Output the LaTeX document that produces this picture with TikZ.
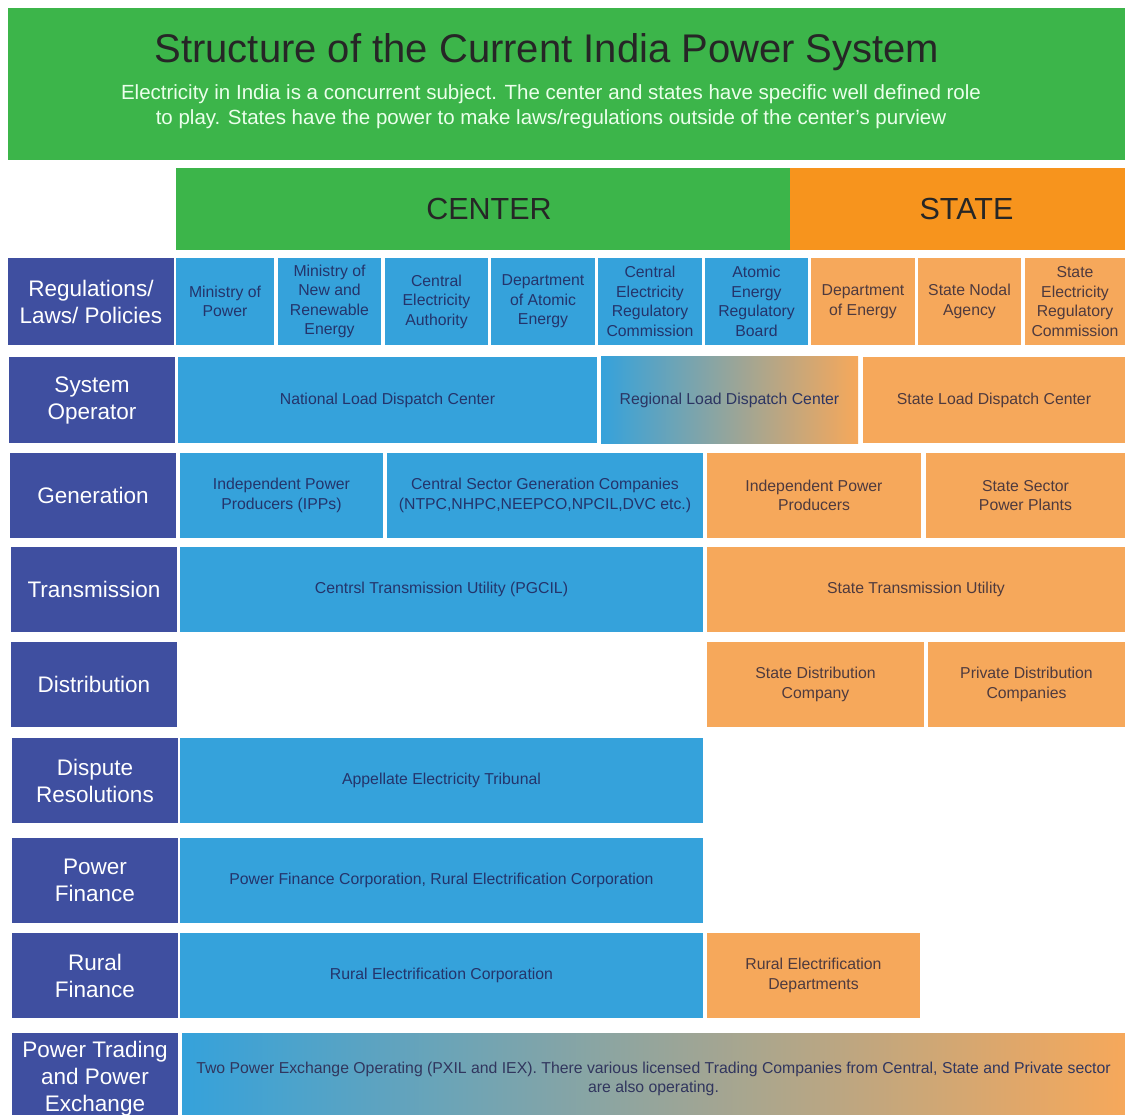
\documentclass[tikz,border=0pt]{standalone}
\usepackage{fontspec}
\setmainfont{Liberation Sans}
\usetikzlibrary{positioning}

\definecolor{bannergreen}{HTML}{3CB54A}
\definecolor{stateorange}{HTML}{F7941D}
\definecolor{rowblue}{HTML}{3F4FA0}
\definecolor{cellblue}{HTML}{35A2DB}
\definecolor{cellorange}{HTML}{F6A85B}
\definecolor{bluetext}{HTML}{24346B}
\definecolor{orangetext}{HTML}{4E3A3E}

% one box of the table, given by its left/right/top/bottom edges
\newcommand{\cellbox}[7][]{%
  \node[cell, #1, minimum width={#4-#3}, minimum height={#6-#5}]
    (#2) at ({(#3+#4)/2},{(#5+#6)/2}) {#7};}

\begin{document}
\begin{tikzpicture}[x=1pt, y=-1pt,
    cell/.style={inner sep=0pt, align=center, font=\fontsize{15.8}{19.5}\selectfont},
    center cell/.style={fill=cellblue, text=bluetext},
    state cell/.style={fill=cellorange, text=orangetext},
    row label/.style={fill=rowblue, text=white, font=\fontsize{22.5}{27}\selectfont},
    head/.style={font=\fontsize{30.5}{36}\selectfont, text=black!85}]
  \useasboundingbox[fill=white] (0,0) rectangle (1125,1115);

  % banner
  \fill[bannergreen] (8,8) rectangle (1125,160);
  \node[font=\fontsize{40}{44}\selectfont, text=black!85] (title) at (547,52)
    {Structure of the Current India Power System};
  \node[font=\fontsize{20.5}{25}\selectfont, text=white!92!green, align=center] (subtitle) at (551,107)
    {Electricity in India is a concurrent subject. The center and states have specific well defined role\\
     to play. States have the power to make laws/regulations outside of the center's purview};

  % column heads
  \cellbox[fill=bannergreen, head]{center}{176}{790}{168}{250}{\hspace*{12pt}CENTER}
  \cellbox[fill=stateorange, head]{state}{790}{1125}{168}{250}{\hspace*{18pt}STATE}

  % row labels
  \cellbox[row label]{regs}{8}{174}{258}{345}{Regulations/\\Laws/ Policies}
  \cellbox[row label]{sysop}{9}{175}{357}{443}{System\\Operator}
  \cellbox[row label]{gen}{10}{176}{453}{538}{Generation}
  \cellbox[row label]{trans}{11}{177}{547}{632}{Transmission}
  \cellbox[row label]{dist}{11}{177}{642}{727}{Distribution}
  \cellbox[row label]{dispute}{12}{178}{738}{823}{Dispute\\Resolutions}
  \cellbox[row label]{pfin}{12}{178}{838}{923}{Power\\Finance}
  \cellbox[row label]{rfin}{12}{178}{933}{1018}{Rural\\Finance}
  \cellbox[row label]{trade}{12}{178}{1033}{1125}{Power Trading\\and Power\\Exchange}

  % regulations
  \cellbox[center cell]{mop}{176}{274}{258}{345}{Ministry of\\Power}
  \cellbox[center cell]{mnre}{278}{381}{258}{345}{Ministry of\\New and\\Renewable\\Energy}
  \cellbox[center cell]{cea}{385}{488}{258}{345}{Central\\Electricity\\Authority}
  \cellbox[center cell]{dae}{491}{595}{258}{345}{Department\\of Atomic\\Energy}
  \cellbox[center cell]{cerc}{598}{702}{258}{345}{Central\\Electricity\\Regulatory\\Commission}
  \cellbox[center cell]{aerb}{705}{808}{258}{345}{Atomic\\Energy\\Regulatory\\Board}
  \cellbox[state cell]{doe}{811}{915}{258}{345}{Department\\of Energy}
  \cellbox[state cell]{sna}{918}{1021}{258}{345}{State Nodal\\Agency}
  \cellbox[state cell]{serc}{1025}{1125}{258}{345}{State\\Electricity\\Regulatory\\Commission}

  % system operator
  \cellbox[center cell]{nldc}{178}{597}{357}{443}{National Load Dispatch Center}
  \cellbox[left color=cellblue, right color=cellorange, text=bluetext!80!orangetext]{rldc}{601}{858}{357}{443}{Regional Load Dispatch Center}
  \cellbox[state cell]{sldc}{863}{1125}{357}{443}{State Load Dispatch Center}

  % generation
  \cellbox[center cell]{ipp}{180}{383}{453}{538}{Independent Power\\Producers (IPPs)}
  \cellbox[center cell]{csgc}{387}{703}{453}{538}{Central Sector Generation Companies\\(NTPC,NHPC,NEEPCO,NPCIL,DVC etc.)}
  \cellbox[state cell]{sipp}{707}{921}{453}{538}{Independent Power\\Producers}
  \cellbox[state cell]{sspp}{926}{1125}{453}{538}{State Sector\\Power Plants}

  % transmission
  \cellbox[center cell]{ctu}{180}{703}{547}{632}{Centrsl Transmission Utility (PGCIL)}
  \cellbox[state cell]{stu}{707}{1125}{547}{632}{State Transmission Utility}

  % distribution
  \cellbox[state cell]{sdc}{707}{924}{642}{727}{State Distribution\\Company}
  \cellbox[state cell]{pdc}{928}{1125}{642}{727}{Private Distribution\\Companies}

  % dispute, finance
  \cellbox[center cell]{aptel}{180}{703}{738}{823}{Appellate Electricity Tribunal}
  \cellbox[center cell]{pfc}{180}{703}{838}{923}{Power Finance Corporation, Rural Electrification Corporation}
  \cellbox[center cell]{rec}{180}{703}{933}{1018}{Rural Electrification Corporation}
  \cellbox[state cell]{red}{707}{920}{933}{1018}{Rural Electrification\\Departments}

  % trading
  \cellbox[left color=cellblue, right color=cellorange, text=bluetext!70!orangetext]{pxil}{182}{1125}{1033}{1125}{Two Power Exchange Operating (PXIL and IEX). There various licensed Trading Companies from Central, State and Private sector\\are also operating.}
\end{tikzpicture}
\end{document}
